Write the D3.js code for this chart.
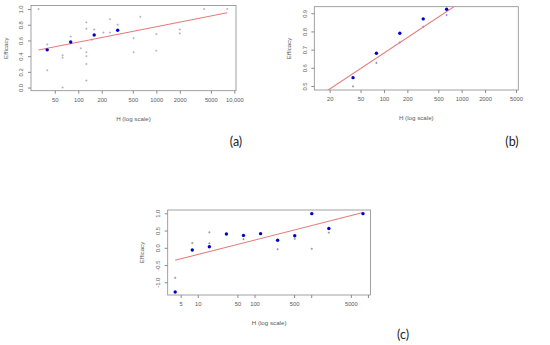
<!DOCTYPE html>
<html lang="en">
<head>
	<meta charset="utf-8">
	<title>Efficacy vs H</title>
	<script src="https://d3js.org/d3.v7.min.js"></script>
	<style>
		body { margin: 0; background: #fff; }
		text { font-family: "Liberation Sans", Arial, sans-serif; }
	</style>
</head>
<body>
	<script>

	// ---- data ----
	// panel (a)
	var aMeanH = [40, 80, 160, 320];
	var aMeanE = [0.48, 0.58, 0.67, 0.73];
	var aObsH = [31, 40, 40, 63, 63, 63, 80, 108, 127, 127, 127, 127, 127, 127, 150, 160, 210, 255, 255, 320, 513, 513, 624, 1000, 1000, 2000, 2000, 4100, 8100];
	var aObsE = [1.0, 0.55, 0.22, 0.41, 0.38, 0.0, 0.65, 0.50, 0.83, 0.75, 0.45, 0.40, 0.30, 0.09, 0.61, 0.74, 0.70, 0.70, 0.87, 0.80, 0.63, 0.45, 0.90, 0.68, 0.47, 0.74, 0.69, 1.0, 1.0];
	var aFit = [0.186, 0.196];      // intercept, slope on log10(H)
	var aFitH = [31, 8100];
	var aXTicks = [50, 100, 200, 500, 1000, 2000, 5000, 10000];
	var aYTicks = [0.0, 0.2, 0.4, 0.6, 0.8, 1.0];

	// panel (b)
	var bMeanH = [40, 80, 160, 320, 640];
	var bMeanE = [0.546, 0.68, 0.79, 0.869, 0.922];
	var bObsH = [40, 80, 160, 320, 640];
	var bObsE = [0.498, 0.627, 0.74, 0.826, 0.89];
	var bFit = [0.115, 0.283];
	var bFitH = [10, 6000];         // full width, clipped to the box
	var bXTicks = [20, 50, 100, 200, 500, 1000, 2000, 5000];
	var bYTicks = [0.5, 0.6, 0.7, 0.8, 0.9];

	// panel (c)
	var cMeanH = [4, 8, 16, 32, 64, 128, 256, 512, 1024, 2048, 8192];
	var cMeanE = [-1.28, -0.064, 0.03, 0.40, 0.36, 0.41, 0.22, 0.35, 0.99, 0.56, 0.99];
	var cObsH = [4, 8, 16, 16, 64, 256, 512, 1024, 2048];
	var cObsE = [-0.87, 0.14, 0.45, 0.13, 0.25, -0.04, 0.26, -0.03, 0.44];
	var cFit = [-0.611, 0.417];
	var cFitH = [4, 8192];
	var cXTicks = [5, 10, 50, 100, 500, 1000, 5000, 10000];
	var cXHidden = [1000, 10000];   // R dropped these labels (overlap)
	var cYTicks = [-1.0, -0.5, 0.0, 0.5, 1.0];

	var width = 550,
		height = 345;

	var svg = d3.select("body")
		.append("svg")
		.attr("width", width)
		.attr("height", height);

	var boxColor = "#8a8a8a",
		textColor = "#5a5a5a";

	function drawPanel(p) {
		var x = d3.scaleLog().domain(p.xDomain).range([p.left, p.right]);
		var y = d3.scaleLinear().domain(p.yDomain).range([p.bottom, p.top]);

		var g = svg.append("g").attr("class", "panel-" + p.id);

		var clipId = "clip-" + p.id;
		g.append("clipPath").attr("id", clipId)
			.append("rect")
			.attr("x", p.left).attr("y", p.top)
			.attr("width", p.right - p.left).attr("height", p.bottom - p.top);

		// x axis
		var xAxis = d3.axisBottom(x)
			.tickValues(p.xTicks)
			.tickSizeInner(3).tickSizeOuter(0).tickPadding(4)
			.tickFormat(function(d) {
				if (p.xHidden && p.xHidden.indexOf(d) >= 0) return "";
				return d >= 10000 ? d3.format(",")(d) : String(d);
			});
		var gx = g.append("g")
			.attr("transform", "translate(0," + p.bottom + ")")
			.call(xAxis);
		gx.select(".domain").remove();
		gx.selectAll("line").attr("stroke", boxColor);
		gx.selectAll("text").attr("fill", textColor).style("font-size", "5.8px");

		// y axis, labels parallel to the axis like R
		var yAxis = d3.axisLeft(y)
			.tickValues(p.yTicks)
			.tickSizeInner(3).tickSizeOuter(0)
			.tickFormat(function(d) { return d.toFixed(1); });
		var gy = g.append("g")
			.attr("transform", "translate(" + p.left + ",0)")
			.call(yAxis);
		gy.select(".domain").remove();
		gy.selectAll("line").attr("stroke", boxColor);
		gy.selectAll("text")
			.attr("fill", textColor).style("font-size", "5.8px")
			.attr("transform", "rotate(-90)")
			.attr("x", 0).attr("y", -7.8).attr("dy", 0)
			.attr("text-anchor", "middle");

		// box
		g.append("rect")
			.attr("x", p.left).attr("y", p.top)
			.attr("width", p.right - p.left).attr("height", p.bottom - p.top)
			.attr("fill", "none").attr("stroke", boxColor).attr("stroke-width", 0.8);

		// raw observations, small crosses
		var obs = p.obsH.map(function(h, i) { return [h, p.obsE[i]]; });
		g.append("g").selectAll("path")
			.data(obs)
			.enter().append("path")
			.attr("d", function(d) {
				var cx = x(d[0]), cy = y(d[1]), s = 1.1;
				return "M" + (cx - s) + "," + cy + "H" + (cx + s) + "M" + cx + "," + (cy - s) + "V" + (cy + s);
			})
			.attr("stroke", p.obsColor).attr("stroke-width", 0.6);

		// regression line
		var fitLine = d3.line()
			.x(function(h) { return x(h); })
			.y(function(h) { return y(p.fit[0] + p.fit[1] * Math.log10(h)); });
		g.append("path")
			.datum(p.fitH)
			.attr("d", fitLine)
			.attr("clip-path", "url(#" + clipId + ")")
			.attr("fill", "none").attr("stroke", "#e77b7b").attr("stroke-width", 1.1);

		// means, blue dots
		var means = p.meanH.map(function(h, i) { return [h, p.meanE[i]]; });
		g.append("g").selectAll("circle")
			.data(means)
			.enter().append("circle")
			.attr("cx", function(d) { return x(d[0]); })
			.attr("cy", function(d) { return y(d[1]); })
			.attr("r", 1.7)
			.attr("fill", "#0000cc");

		// axis titles
		g.append("text")
			.attr("x", (p.left + p.right) / 2).attr("y", p.bottom + 30)
			.attr("text-anchor", "middle")
			.attr("fill", textColor).style("font-size", "6.2px")
			.text("H (log scale)");
		g.append("text")
			.attr("transform", "translate(" + (p.left - 23.5) + "," + ((p.top + p.bottom) / 2) + ") rotate(-90)")
			.attr("text-anchor", "middle")
			.attr("fill", textColor).style("font-size", "6.2px")
			.text("Efficacy");

		// panel letter
		svg.append("text")
			.attr("x", p.tagX).attr("y", p.tagY)
			.attr("text-anchor", "middle")
			.style("font-family", "Lato, 'Open Sans', sans-serif")
			.style("font-size", "12.5px")
			.attr("fill", "#222")
			.text("(" + p.id + ")");
	}

	drawPanel({
		id: "a", left: 31, right: 236, top: 5.5, bottom: 90.7,
		xDomain: [24.8, 10500], yDomain: [-0.04, 1.045],
		xTicks: aXTicks, yTicks: aYTicks,
		meanH: aMeanH, meanE: aMeanE, obsH: aObsH, obsE: aObsE, obsColor: "#9a9ab4",
		fit: aFit, fitH: aFitH, tagX: 236, tagY: 146
	});

	drawPanel({
		id: "b", left: 314.3, right: 518.3, top: 6.7, bottom: 90,
		xDomain: [12.7, 5350], yDomain: [0.478, 0.936],
		xTicks: bXTicks, yTicks: bYTicks,
		meanH: bMeanH, meanE: bMeanE, obsH: bObsH, obsE: bObsE, obsColor: "#6a6a9a",
		fit: bFit, fitH: bFitH, tagX: 512, tagY: 146
	});

	drawPanel({
		id: "c", left: 167.7, right: 370.5, top: 210, bottom: 295,
		xDomain: [2.95, 11100], yDomain: [-1.368, 1.096],
		xTicks: cXTicks, xHidden: cXHidden, yTicks: cYTicks,
		meanH: cMeanH, meanE: cMeanE, obsH: cObsH, obsE: cObsE, obsColor: "#707080",
		fit: cFit, fitH: cFitH, tagX: 403, tagY: 339
	});

	</script>
</body>
</html>
